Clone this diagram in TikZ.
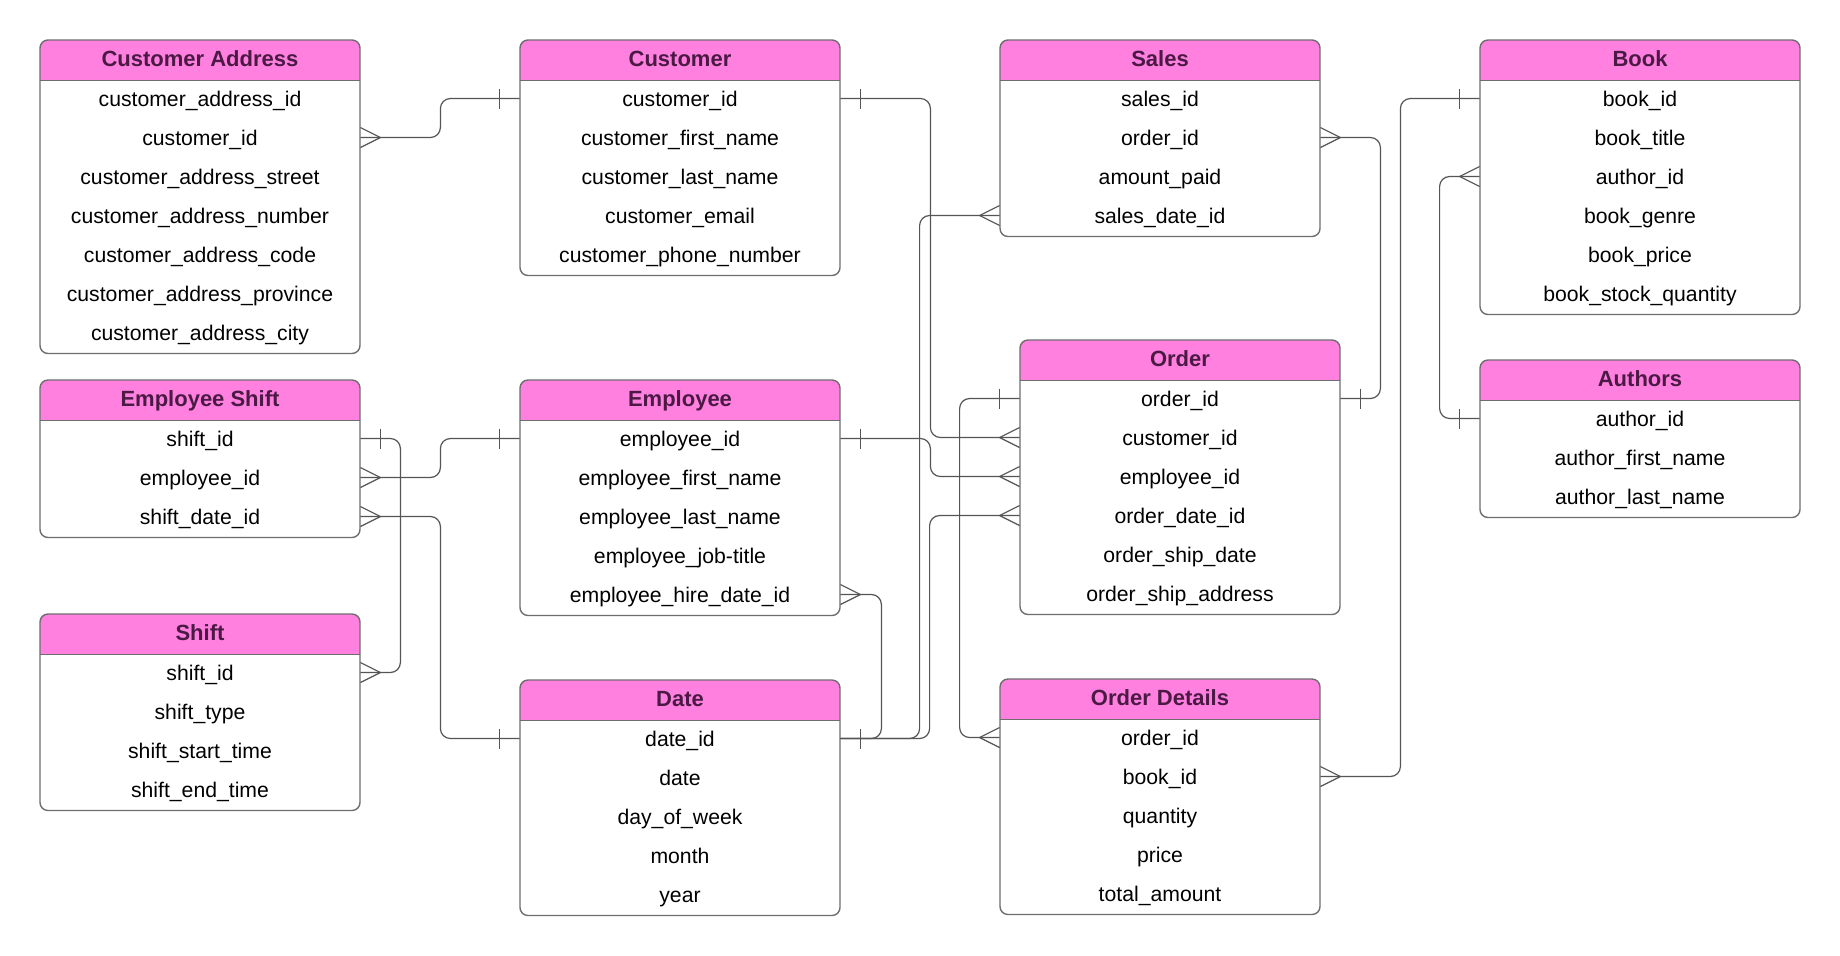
\documentclass[tikz,border=0pt]{standalone}
\usepackage{fontspec}
\setmainfont{Liberation Sans}
\definecolor{headpink}{HTML}{FF80DF}
\definecolor{headtext}{HTML}{4A1A45}
\definecolor{edgegray}{HTML}{6E6E6E}
\definecolor{linkgray}{HTML}{555555}

% table: name, left, top, title, fields
\newcommand{\entity}[5]{%
  \foreach \f [count=\i] in {#5} {
    \node[field] (#1-\i) at (#2+160,#3+58.5+39*\i-39) {\f};
    \xdef\nfields{\i}
  }
  \pgfmathsetmacro\ybot{#3+40.5+39*\nfields}
  \begin{scope}
    \clip[rounded corners=4pt] (#2,#3) rectangle (#2+320,\ybot);
    \fill[headpink] (#2,#3) rectangle (#2+320,#3+40.5);
  \end{scope}
  \draw[boxline, rounded corners=4pt] (#2,#3) rectangle (#2+320,\ybot);
  \draw[boxline] (#2,#3+40.5) -- ++(320,0);
  \node[tabletitle] (#1) at (#2+160,#3+20.5) {#4};
}

\begin{document}
\begin{tikzpicture}[x=0.5pt, y=-0.5pt,
  field/.style={inner sep=0pt, minimum width=160pt, minimum height=19.5pt,
    text height=9pt, text depth=1.5pt, font=\fontsize{10.6}{12}\selectfont},
  tabletitle/.style={inner sep=0pt, text=headtext, text height=7.5pt,
    text depth=2pt, font=\fontsize{11}{13}\selectfont\bfseries},
  boxline/.style={draw=edgegray, line width=0.7pt},
  tipline/.style={draw=linkgray, line width=0.6pt},
  link/.style={tipline, rounded corners=5pt},
  crowfoot/.pic={\draw[tipline] (0,-10) -- (20,0) -- (0,10);},
  onebar/.pic={\draw[tipline] (20,-10) -- (20,10);},
]
\useasboundingbox[fill=white] (0,0) rectangle (1840,955);

\entity{cadr}{40}{40}{Customer Address}{customer\_address\_id, customer\_id,
  customer\_address\_street, customer\_address\_number, customer\_address\_code,
  customer\_address\_province, customer\_address\_city}
\entity{cust}{520}{40}{Customer}{customer\_id, customer\_first\_name,
  customer\_last\_name, customer\_email, customer\_phone\_number}
\entity{sal}{1000}{40}{Sales}{sales\_id, order\_id, amount\_paid, sales\_date\_id}
\entity{book}{1480}{40}{Book}{book\_id, book\_title, author\_id, book\_genre,
  book\_price, book\_stock\_quantity}
\entity{eshift}{40}{380}{Employee Shift}{shift\_id, employee\_id, shift\_date\_id}
\entity{emp}{520}{380}{Employee}{employee\_id, employee\_first\_name,
  employee\_last\_name, employee\_job-title, employee\_hire\_date\_id}
\entity{ord}{1020}{340}{Order}{order\_id, customer\_id, employee\_id,
  order\_date\_id, order\_ship\_date, order\_ship\_address}
\entity{auth}{1480}{360}{Authors}{author\_id, author\_first\_name, author\_last\_name}
\entity{shift}{40}{614}{Shift}{shift\_id, shift\_type, shift\_start\_time,
  shift\_end\_time}
\entity{date}{520}{680}{Date}{date\_id, date, day\_of\_week, month, year}
\entity{od}{1000}{679}{Order Details}{order\_id, book\_id, quantity, price,
  total\_amount}

% relationships
\draw[link] (cadr-2.east) -- ++(80,0) |- (cust-1.west);
\draw[link] (cust-1.east) -- ++(90,0) |- (ord-2.west);
\draw[link] (sal-4.west) -- ++(-80,0) |- (date-1.east);
\draw[link] (ord-1.west) -- ++(-60,0) |- (od-1.west);
\draw[link] (sal-2.east) -- ++(60,0) |- (ord-1.east);
\draw[link] (od-2.east) -- ++(80,0) |- (book-1.west);
\draw[link] (book-3.west) -- ++(-40,0) |- (auth-1.west);
\draw[link] (eshift-2.east) -- ++(80,0) |- (emp-1.west);
\draw[link] (eshift-1.east) -- ++(40,0) |- (shift-1.east);
\draw[link] (eshift-3.east) -- ++(80,0) |- (date-1.west);
\draw[link] (emp-1.east) -- ++(90,0) |- (ord-3.west);
\draw[link] (emp-5.east) -- ++(41,0) |- (date-1.east);
\draw[link] (ord-4.west) -- ++(-90,0) |- (date-1.east);

% many ends
\pic at (cadr-2.east) {crowfoot};
\pic[xscale=-1] at (ord-2.west) {crowfoot};
\pic[xscale=-1] at (sal-4.west) {crowfoot};
\pic[xscale=-1] at (od-1.west) {crowfoot};
\pic at (sal-2.east) {crowfoot};
\pic at (od-2.east) {crowfoot};
\pic[xscale=-1] at (book-3.west) {crowfoot};
\pic at (eshift-2.east) {crowfoot};
\pic at (shift-1.east) {crowfoot};
\pic at (eshift-3.east) {crowfoot};
\pic[xscale=-1] at (ord-3.west) {crowfoot};
\pic at (emp-5.east) {crowfoot};
\pic[xscale=-1] at (ord-4.west) {crowfoot};

% one ends
\pic[xscale=-1] at (cust-1.west) {onebar};
\pic at (cust-1.east) {onebar};
\pic at (date-1.east) {onebar};
\pic[xscale=-1] at (ord-1.west) {onebar};
\pic at (ord-1.east) {onebar};
\pic[xscale=-1] at (book-1.west) {onebar};
\pic[xscale=-1] at (auth-1.west) {onebar};
\pic[xscale=-1] at (emp-1.west) {onebar};
\pic at (eshift-1.east) {onebar};
\pic[xscale=-1] at (date-1.west) {onebar};
\pic at (emp-1.east) {onebar};
\end{tikzpicture}
\end{document}
